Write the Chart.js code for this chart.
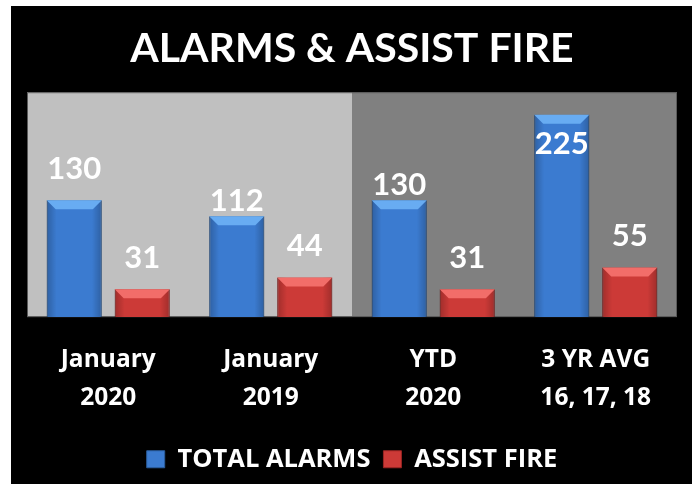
<!DOCTYPE html>
<html>
<head>
<meta charset="utf-8">
<script src="https://cdn.jsdelivr.net/npm/chart.js@4.4.1/dist/chart.umd.min.js"></script>
<style>
  html, body { margin: 0; padding: 0; background: #fff; }
  #frame { position: absolute; left: 11px; top: 6px; width: 681px; height: 478px; background: #000; }
</style>
</head>
<body>
<div id="frame"><canvas id="chart"></canvas></div>
<script>
const categories = [['January', '2020'], ['January', '2019'], ['YTD', '2020'], ['3 YR AVG', '16, 17, 18']];
const totalAlarms = [130, 112, 130, 225];
const assistFire = [31, 44, 31, 55];
const yMax = 250;

// how far above the bar top each value label sits (negative = inside the bar)
const labelLift = [[31, 15, 15, -29], [31, 31, 31, 32]];

const FONT = 'Lato, "Open Sans", sans-serif';
const FONT2 = '"Open Sans", Lato, sans-serif';

const panels = {
  id: 'panels',
  beforeDatasetsDraw(chart) {
    const { ctx, chartArea: a, scales: { x } } = chart;
    const mid = x.getPixelForValue(1.5);
    ctx.save();
    ctx.fillStyle = '#c0c0c0';
    ctx.fillRect(a.left, a.top, mid - a.left, a.bottom - a.top);
    ctx.fillStyle = '#808080';
    ctx.fillRect(mid, a.top, a.right - mid, a.bottom - a.top);
    ctx.strokeStyle = '#5a5a5a';
    ctx.lineWidth = 1;
    ctx.strokeRect(a.left + 0.5, a.top + 0.5, a.right - a.left - 1, a.bottom - a.top - 1);
    ctx.restore();
  }
};

const bevels = {
  id: 'bevels',
  afterDatasetsDraw(chart) {
    const ctx = chart.ctx;
    const tops = ['#68acf2', '#f26d69'];
    chart.data.datasets.forEach((ds, di) => {
      chart.getDatasetMeta(di).data.forEach((bar, i) => {
        const w = bar.width, l = bar.x - w / 2, r = bar.x + w / 2;
        const t = bar.y, b = bar.base, bv = 9;
        ctx.save();
        const g = ctx.createLinearGradient(l, 0, r, 0);
        g.addColorStop(0, 'rgba(0,0,0,0.22)');
        g.addColorStop(0.18, 'rgba(0,0,0,0)');
        g.addColorStop(0.82, 'rgba(0,0,0,0)');
        g.addColorStop(1, 'rgba(0,0,0,0.22)');
        ctx.fillStyle = g;
        ctx.fillRect(l, t, w, b - t);
        ctx.beginPath();
        ctx.moveTo(l, t);
        ctx.lineTo(r, t);
        ctx.lineTo(r - bv, t + bv);
        ctx.lineTo(l + bv, t + bv);
        ctx.closePath();
        ctx.fillStyle = tops[di];
        ctx.fill();
        ctx.restore();

        ctx.save();
        ctx.fillStyle = '#ffffff';
        ctx.font = 'bold 31px ' + FONT;
        ctx.textAlign = 'center';
        ctx.textBaseline = 'middle';
        ctx.fillText(String(ds.data[i]), bar.x, t - labelLift[di][i]);
        ctx.restore();
      });
    });
  }
};

new Chart(document.getElementById('chart'), {
  type: 'bar',
  data: {
    labels: categories,
    datasets: [
      { label: 'TOTAL ALARMS', data: totalAlarms, backgroundColor: '#3b7bd0', borderColor: '#2a5c9c', borderWidth: 1 },
      { label: 'ASSIST FIRE', data: assistFire, backgroundColor: '#cc3a37', borderColor: '#9a2523', borderWidth: 1 }
    ]
  },
  options: {
    responsive: true,
    maintainAspectRatio: false,
    animation: false,
    categoryPercentage: 0.837,
    barPercentage: 0.81,
    layout: { padding: { left: 16, right: 15, top: 0, bottom: 2 } },
    scales: {
      x: {
        grid: { display: false },
        border: { display: false },
        ticks: { color: '#fff', padding: 16, font: { family: FONT2, size: 24.5, weight: 'bold', lineHeight: 1.56 } }
      },
      y: { display: false, min: 0, max: yMax }
    },
    plugins: {
      title: {
        display: true,
        text: 'ALARMS & ASSIST FIRE',
        color: '#fff',
        font: { family: FONT, size: 41, weight: 'bold' },
        padding: { top: 18, bottom: 19 }
      },
      legend: {
        position: 'bottom',
        labels: {
          color: '#fff',
          font: { family: FONT2, size: 25.5, weight: 'bold' },
          boxWidth: 18,
          boxHeight: 17,
          padding: 13
        }
      },
      tooltip: { enabled: false }
    }
  },
  plugins: [panels, bevels]
});
</script>
</body>
</html>
